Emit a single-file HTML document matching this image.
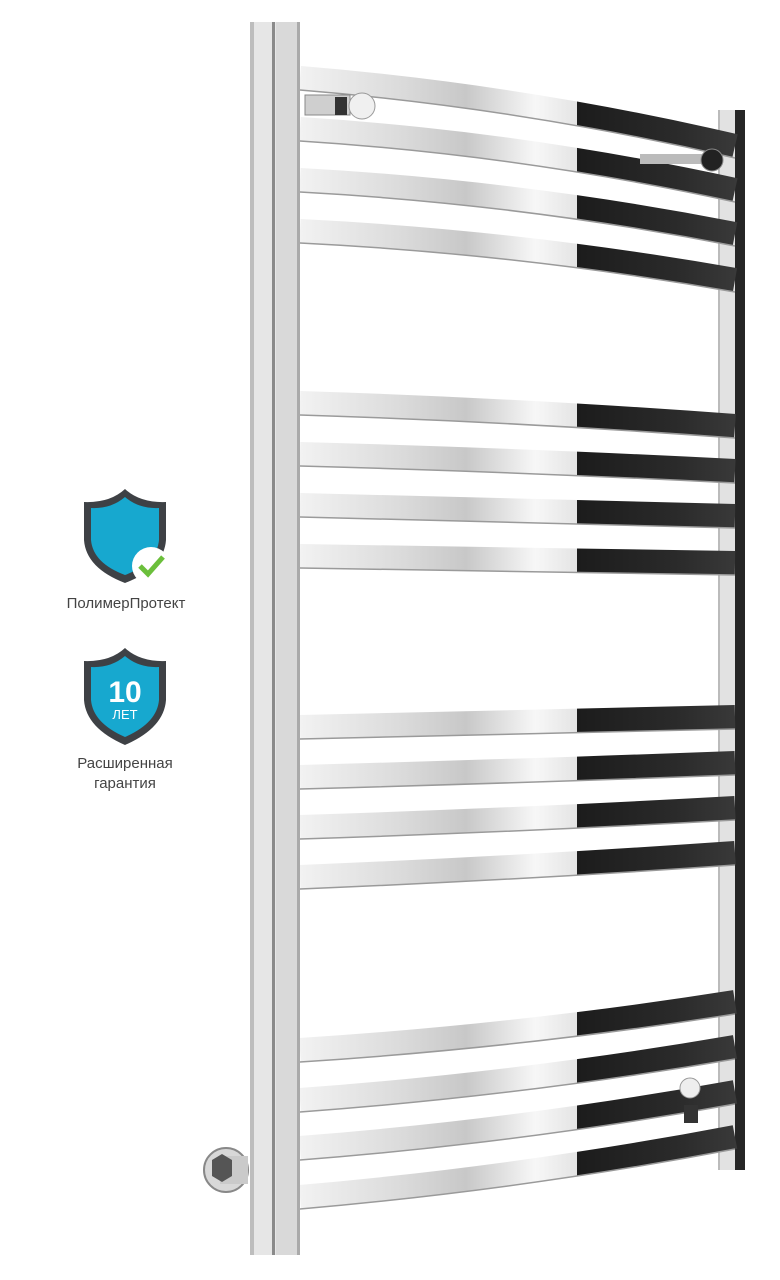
<!DOCTYPE html>
<html><head><meta charset="utf-8"><style>
html,body{margin:0;padding:0;background:#fff;width:780px;height:1280px;overflow:hidden}
svg{display:block}
</style></head><body>
<svg width="780" height="1280" viewBox="0 0 780 1280" xmlns="http://www.w3.org/2000/svg">
<defs>
<linearGradient id="lg" x1="300" y1="0" x2="577" y2="0" gradientUnits="userSpaceOnUse">
<stop offset="0" stop-color="#f2f2f2"/><stop offset="0.35" stop-color="#dcdcdc"/><stop offset="0.6" stop-color="#c8c8c8"/><stop offset="0.85" stop-color="#f7f7f7"/><stop offset="1" stop-color="#e4e4e4"/>
</linearGradient>
<linearGradient id="dg" x1="577" y1="0" x2="740" y2="0" gradientUnits="userSpaceOnUse">
<stop offset="0" stop-color="#1c1c1c"/><stop offset="0.6" stop-color="#2a2a2a"/><stop offset="1" stop-color="#3a3a3a"/>
</linearGradient>
<clipPath id="cl"><rect x="0" y="0" width="577" height="1280"/></clipPath>
<clipPath id="cr"><rect x="577" y="0" width="200" height="1280"/></clipPath>
</defs>

<!-- right post -->
<rect x="718" y="110" width="18" height="1060" fill="#e2e2e2"/>
<rect x="735" y="110" width="10" height="1060" fill="#262626"/>
<rect x="718" y="110" width="2" height="1060" fill="#bbb"/>

<g id="bars" fill="none">
<!-- group 1 -->
<g stroke-width="24">
<path d="M300,78 Q520,96 735,146" stroke="url(#lg)" clip-path="url(#cl)"/>
<path d="M300,78 Q520,96 735,146" stroke="url(#dg)" clip-path="url(#cr)"/>
<path d="M300,129 Q520,143 735,190" stroke="url(#lg)" clip-path="url(#cl)"/>
<path d="M300,129 Q520,143 735,190" stroke="url(#dg)" clip-path="url(#cr)"/>
<path d="M300,180 Q520,192 735,234" stroke="url(#lg)" clip-path="url(#cl)"/>
<path d="M300,180 Q520,192 735,234" stroke="url(#dg)" clip-path="url(#cr)"/>
<path d="M300,231 Q520,242 735,280" stroke="url(#lg)" clip-path="url(#cl)"/>
<path d="M300,231 Q520,242 735,280" stroke="url(#dg)" clip-path="url(#cr)"/>
<!-- group 2 -->
<path d="M300,403 Q520,410 735,426" stroke="url(#lg)" clip-path="url(#cl)"/>
<path d="M300,403 Q520,410 735,426" stroke="url(#dg)" clip-path="url(#cr)"/>
<path d="M300,454 Q520,460 735,471" stroke="url(#lg)" clip-path="url(#cl)"/>
<path d="M300,454 Q520,460 735,471" stroke="url(#dg)" clip-path="url(#cr)"/>
<path d="M300,505 Q520,510 735,516" stroke="url(#lg)" clip-path="url(#cl)"/>
<path d="M300,505 Q520,510 735,516" stroke="url(#dg)" clip-path="url(#cr)"/>
<path d="M300,556 Q520,560 735,563" stroke="url(#lg)" clip-path="url(#cl)"/>
<path d="M300,556 Q520,560 735,563" stroke="url(#dg)" clip-path="url(#cr)"/>
<!-- group 3 -->
<path d="M300,727 Q520,722 735,717" stroke="url(#lg)" clip-path="url(#cl)"/>
<path d="M300,727 Q520,722 735,717" stroke="url(#dg)" clip-path="url(#cr)"/>
<path d="M300,777 Q520,771 735,763" stroke="url(#lg)" clip-path="url(#cl)"/>
<path d="M300,777 Q520,771 735,763" stroke="url(#dg)" clip-path="url(#cr)"/>
<path d="M300,827 Q520,820 735,808" stroke="url(#lg)" clip-path="url(#cl)"/>
<path d="M300,827 Q520,820 735,808" stroke="url(#dg)" clip-path="url(#cr)"/>
<path d="M300,877 Q520,868 735,853" stroke="url(#lg)" clip-path="url(#cl)"/>
<path d="M300,877 Q520,868 735,853" stroke="url(#dg)" clip-path="url(#cr)"/>
<!-- group 4 -->
<path d="M300,1050 Q520,1036 735,1002" stroke="url(#lg)" clip-path="url(#cl)"/>
<path d="M300,1050 Q520,1036 735,1002" stroke="url(#dg)" clip-path="url(#cr)"/>
<path d="M300,1100 Q520,1084 735,1047" stroke="url(#lg)" clip-path="url(#cl)"/>
<path d="M300,1100 Q520,1084 735,1047" stroke="url(#dg)" clip-path="url(#cr)"/>
<path d="M300,1148 Q520,1131 735,1092" stroke="url(#lg)" clip-path="url(#cl)"/>
<path d="M300,1148 Q520,1131 735,1092" stroke="url(#dg)" clip-path="url(#cr)"/>
<path d="M300,1197 Q520,1178 735,1137" stroke="url(#lg)" clip-path="url(#cl)"/>
<path d="M300,1197 Q520,1178 735,1137" stroke="url(#dg)" clip-path="url(#cr)"/>
</g>
<!-- lower edge lines -->
<g stroke="#9a9a9a" stroke-width="1.5">
<path d="M300,90 Q520,108 735,158"/><path d="M300,141 Q520,155 735,202"/><path d="M300,192 Q520,204 735,246"/><path d="M300,243 Q520,254 735,292"/>
<path d="M300,415 Q520,422 735,438"/><path d="M300,466 Q520,472 735,483"/><path d="M300,517 Q520,522 735,528"/><path d="M300,568 Q520,572 735,575"/>
<path d="M300,739 Q520,734 735,729"/><path d="M300,789 Q520,783 735,775"/><path d="M300,839 Q520,832 735,820"/><path d="M300,889 Q520,880 735,865"/>
<path d="M300,1062 Q520,1048 735,1014"/><path d="M300,1112 Q520,1096 735,1059"/><path d="M300,1160 Q520,1143 735,1104"/><path d="M300,1209 Q520,1190 735,1149"/>
</g>
</g>

<!-- left post -->
<rect x="250" y="22" width="50" height="1233" fill="#e6e6e6"/>
<rect x="250" y="22" width="4" height="1233" fill="#bdbdbd"/>
<rect x="272" y="22" width="3" height="1233" fill="#8a8a8a"/>
<rect x="276" y="22" width="24" height="1233" fill="#d9d9d9"/>
<rect x="297" y="22" width="3" height="1233" fill="#aaa"/>

<!-- valves -->
<g>
<rect x="305" y="95" width="45" height="20" fill="#cfcfcf" stroke="#888"/>
<circle cx="362" cy="106" r="13" fill="#f0f0f0" stroke="#999"/>
<rect x="335" y="97" width="12" height="18" fill="#333"/>
<rect x="640" y="154" width="70" height="10" fill="#bbb"/>
<circle cx="712" cy="160" r="11" fill="#222" stroke="#888"/>
<circle cx="690" cy="1088" r="10" fill="#eee" stroke="#999"/>
<rect x="684" y="1105" width="14" height="18" fill="#333"/>
<circle cx="226" cy="1170" r="22" fill="#d8d8d8" stroke="#888" stroke-width="2"/>
<rect x="220" y="1156" width="28" height="28" fill="#cacaca"/>
<polygon points="212,1160 222,1154 232,1160 232,1176 222,1182 212,1176" fill="#555"/>
</g>

<!-- badge 1 -->
<g>
<path d="M125,489 Q110,503 84,502 L84,540 Q86,568 125,583 Q164,568 166,540 L166,502 Q140,503 125,489 Z" fill="#3e4145"/>
<path d="M125,497 Q111,509 91,508 L91,540 Q93,563 125,575 Q157,563 159,540 L159,508 Q139,509 125,497 Z" fill="#17a8cf"/>
<circle cx="151" cy="566" r="19" fill="#fff"/>
<path d="M140,566 L148,574 L163,557" fill="none" stroke="#6bbf3b" stroke-width="5"/>
<text x="126" y="608" text-anchor="middle" font-family="Liberation Sans, sans-serif" font-size="15" fill="#444">ПолимерПротект</text>
</g>
<!-- badge 2 -->
<g>
<path d="M125,648 Q110,662 84,661 L84,700 Q86,728 125,745 Q164,728 166,700 L166,661 Q140,662 125,648 Z" fill="#3e4145"/>
<path d="M125,656 Q111,668 91,667 L91,700 Q93,723 125,737 Q157,723 159,700 L159,667 Q139,668 125,656 Z" fill="#17a8cf"/>
<text x="125" y="702" text-anchor="middle" font-family="Liberation Sans, sans-serif" font-weight="bold" font-size="30" fill="#fff">10</text>
<text x="125" y="719" text-anchor="middle" font-family="Liberation Sans, sans-serif" font-size="13" fill="#fff">ЛЕТ</text>
<text x="125" y="768" text-anchor="middle" font-family="Liberation Sans, sans-serif" font-size="15" fill="#444">Расширенная</text>
<text x="125" y="788" text-anchor="middle" font-family="Liberation Sans, sans-serif" font-size="15" fill="#444">гарантия</text>
</g>
</svg>
</body></html>
